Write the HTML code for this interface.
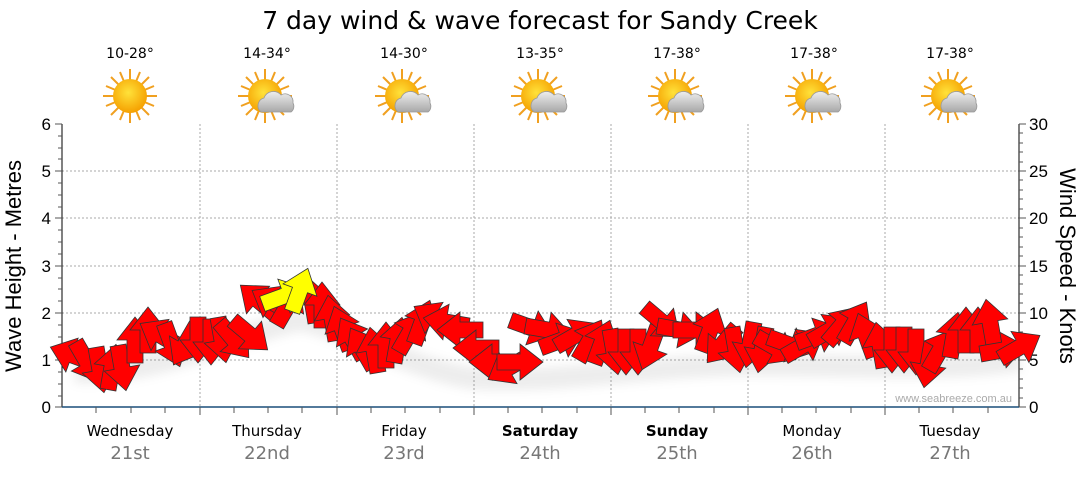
<!DOCTYPE html>
<html><head><meta charset="utf-8"><style>
body{margin:0;background:#fff;width:1080px;height:475px;overflow:hidden}
svg text{font-family:"DejaVu Sans","Liberation Sans",sans-serif}
svg text.ar{font-family:"Liberation Sans",Arial,sans-serif}
</style></head><body>
<svg width="1080" height="475" viewBox="0 0 1080 475" xmlns="http://www.w3.org/2000/svg">
<defs>
<radialGradient id="sun" cx="45%" cy="40%" r="60%"><stop offset="0" stop-color="#ffe23a"/><stop offset="1" stop-color="#f5a000"/></radialGradient>
<linearGradient id="cl" x1="0" y1="0" x2="0" y2="1"><stop offset="0" stop-color="#eeeeee"/><stop offset="1" stop-color="#a8a8a8"/></linearGradient>
<g id="rays">
<g stroke="#f0a020" stroke-width="2">
<line x1="0" y1="-27" x2="0" y2="27"/><line x1="-27" y1="0" x2="27" y2="0"/>
<line x1="-19" y1="-19" x2="19" y2="19"/><line x1="-19" y1="19" x2="19" y2="-19"/>
<line x1="-10" y1="-24" x2="10" y2="24"/><line x1="-24" y1="-10" x2="24" y2="10"/>
<line x1="-10" y1="24" x2="10" y2="-24"/><line x1="-24" y1="10" x2="24" y2="-10"/>
</g></g>
<g id="sunny"><use href="#rays"/><circle r="17" fill="url(#sun)"/></g>
<g id="cloudy"><use href="#rays"/><circle r="17" fill="url(#sun)"/>
<path d="M-4,16 a8,8 0 0 1 3,-14 a10,10 0 0 1 17,-3 a8,8 0 0 1 12,8 a7,7 0 0 1 -2,9 z" fill="url(#cl)" stroke="#999" stroke-width="0.8"/></g>
<polygon id="a" points="-8,23 8,23 8,0 18,0 0,-23 -18,0 -8,0" stroke="#333" stroke-width="0.8"/>
<filter id="sh" x="-50%" y="-50%" width="200%" height="200%"><feGaussianBlur stdDeviation="5"/></filter>
</defs>

<text x="540" y="29" font-size="25" text-anchor="middle" fill="#000">7 day wind &amp; wave forecast for Sandy Creek</text>

<g font-size="14" text-anchor="middle" fill="#000">
<text x="130" y="58">10-28°</text><text x="267" y="58">14-34°</text><text x="404" y="58">14-30°</text>
<text x="540" y="58">13-35°</text><text x="677" y="58">17-38°</text><text x="814" y="58">17-38°</text><text x="950" y="58">17-38°</text>
</g>
<use href="#sunny" x="130" y="96"/><use href="#cloudy" x="265" y="96"/><use href="#cloudy" x="402" y="96"/>
<use href="#cloudy" x="538" y="96"/><use href="#cloudy" x="675" y="96"/><use href="#cloudy" x="812" y="96"/><use href="#cloudy" x="948" y="96"/>

<g stroke="#aaa" stroke-width="1" stroke-dasharray="2,2">
<line x1="62" y1="360" x2="1019" y2="360"/><line x1="62" y1="313" x2="1019" y2="313"/>
<line x1="62" y1="266" x2="1019" y2="266"/><line x1="62" y1="218" x2="1019" y2="218"/>
<line x1="62" y1="171" x2="1019" y2="171"/>
<line x1="200" y1="124" x2="200" y2="407"/><line x1="337" y1="124" x2="337" y2="407"/>
<line x1="474" y1="124" x2="474" y2="407"/><line x1="611" y1="124" x2="611" y2="407"/>
<line x1="748" y1="124" x2="748" y2="407"/><line x1="885" y1="124" x2="885" y2="407"/>
</g>
<line x1="62" y1="124" x2="62" y2="407" stroke="#000"/>
<line x1="1019" y1="124" x2="1019" y2="407" stroke="#000"/>
<line x1="62" y1="407" x2="1019" y2="407" stroke="#1a4f7a" stroke-width="1.5"/>
<g stroke="#555" stroke-width="1">
<path d="M55,124h7M55,171h7M55,218h7M55,266h7M55,313h7M55,360h7M55,407h7"/>
<path d="M58,136h4M58,148h4M58,159h4M58,183h4M58,195h4M58,207h4M58,230h4M58,242h4M58,254h4M58,278h4M58,289h4M58,301h4M58,325h4M58,337h4M58,348h4M58,372h4M58,384h4M58,396h4"/>
<path d="M1019,124h7M1019,171h7M1019,218h7M1019,266h7M1019,313h7M1019,360h7M1019,407h7"/>
<path d="M1019,133h4M1019,143h4M1019,152h4M1019,162h4M1019,180h4M1019,190h4M1019,199h4M1019,209h4M1019,228h4M1019,237h4M1019,247h4M1019,256h4M1019,275h4M1019,284h4M1019,294h4M1019,303h4M1019,322h4M1019,332h4M1019,341h4M1019,351h4M1019,369h4M1019,379h4M1019,388h4M1019,398h4"/>
<path d="M96,407v6M131,407v6M165,407v6M200,407v8M234,407v6M268,407v6M302,407v6M337,407v8M371,407v6M405,407v6M440,407v6M474,407v8M508,407v6M542,407v6M577,407v6M611,407v8M645,407v6M679,407v6M714,407v6M748,407v8M782,407v6M816,407v6M851,407v6M885,407v8M919,407v6M953,407v6M988,407v6"/>
</g>
<g font-size="17" fill="#000" text-anchor="end">
<text class="ar" x="51" y="130">6</text><text class="ar" x="51" y="177">5</text><text class="ar" x="51" y="224">4</text><text class="ar" x="51" y="272">3</text><text class="ar" x="51" y="319">2</text><text class="ar" x="51" y="366">1</text><text class="ar" x="51" y="413">0</text>
</g>
<g font-size="17" fill="#000">
<text class="ar" x="1029" y="130">30</text><text class="ar" x="1029" y="177">25</text><text class="ar" x="1029" y="224">20</text><text class="ar" x="1029" y="272">15</text><text class="ar" x="1029" y="319">10</text><text class="ar" x="1029" y="366">5</text><text class="ar" x="1029" y="413">0</text>
</g>
<text class="ar" transform="translate(21,266) rotate(-90)" font-size="22" text-anchor="middle" fill="#000">Wave Height - Metres</text>
<text class="ar" transform="translate(1060,266) rotate(90)" font-size="22" text-anchor="middle" fill="#000">Wind Speed - Knots</text>

<text class="ar" x="1012" y="402" font-size="11" text-anchor="end" fill="#aaa">www.seabreeze.com.au</text>

<g font-size="15" text-anchor="middle" fill="#000">
<text x="130" y="436">Wednesday</text><text x="267" y="436">Thursday</text><text x="404" y="436">Friday</text>
<text x="540" y="436" font-weight="bold">Saturday</text><text x="677" y="436" font-weight="bold">Sunday</text>
<text x="812" y="436">Monday</text><text x="950" y="436">Tuesday</text>
</g>
<g font-size="18" text-anchor="middle" fill="#777">
<text x="130" y="459">21st</text><text x="267" y="459">22nd</text><text x="404" y="459">23rd</text>
<text x="540" y="459">24th</text><text x="677" y="459">25th</text><text x="812" y="459">26th</text><text x="950" y="459">27th</text>
</g>

<path d="M75,372 C150,378 250,330 300,320 C350,330 400,365 470,378 C550,385 650,365 750,365 C850,365 950,372 1020,360" stroke="#000" stroke-opacity="0.07" stroke-width="22" fill="none" filter="url(#sh)"/>

<g fill="#ff0000">
<use href="#a" transform="translate(72,355) rotate(-70)"/>
<use href="#a" transform="translate(87,362) rotate(150)"/>
<use href="#a" transform="translate(100,370) rotate(170)"/>
<use href="#a" transform="translate(112,367) rotate(10)"/>
<use href="#a" transform="translate(122,368) rotate(170)"/>
<use href="#a" transform="translate(135,340) rotate(0)"/>
<use href="#a" transform="translate(148,330) rotate(0)"/>
<use href="#a" transform="translate(160,335) rotate(-60)"/>
<use href="#a" transform="translate(172,345) rotate(160)"/>
<use href="#a" transform="translate(185,345) rotate(-150)"/>
<use href="#a" transform="translate(198,340) rotate(180)"/>
<use href="#a" transform="translate(211,342) rotate(180)"/>
<use href="#a" transform="translate(222,340) rotate(170)"/>
<use href="#a" transform="translate(234,340) rotate(140)"/>
<use href="#a" transform="translate(250,335) rotate(130)"/>
<use href="#a" transform="translate(258,300) rotate(-50)"/>
<use href="#a" transform="translate(272,302) rotate(-60)"/>
<use href="#a" transform="translate(288,305) rotate(30)"/>
<use href="#a" transform="translate(312,300) rotate(-10)"/>
<use href="#a" transform="translate(322,305) rotate(0)"/>
<use href="#a" transform="translate(332,318) rotate(-10)"/>
<use href="#a" transform="translate(342,328) rotate(-20)"/>
<use href="#a" transform="translate(352,338) rotate(-30)"/>
<use href="#a" transform="translate(362,348) rotate(-30)"/>
<use href="#a" transform="translate(374,350) rotate(-10)"/>
<use href="#a" transform="translate(386,345) rotate(0)"/>
<use href="#a" transform="translate(398,340) rotate(10)"/>
<use href="#a" transform="translate(410,332) rotate(30)"/>
<use href="#a" transform="translate(422,322) rotate(20)"/>
<use href="#a" transform="translate(434,318) rotate(-60)"/>
<use href="#a" transform="translate(446,322) rotate(-80)"/>
<use href="#a" transform="translate(460,330) rotate(-90)"/>
<use href="#a" transform="translate(476,348) rotate(-90)"/>
<use href="#a" transform="translate(492,362) rotate(-90)"/>
<use href="#a" transform="translate(508,368) rotate(-120)"/>
<use href="#a" transform="translate(520,362) rotate(90)"/>
<use href="#a" transform="translate(532,328) rotate(110)"/>
<use href="#a" transform="translate(548,330) rotate(100)"/>
<use href="#a" transform="translate(562,340) rotate(70)"/>
<use href="#a" transform="translate(576,335) rotate(60)"/>
<use href="#a" transform="translate(590,340) rotate(30)"/>
<use href="#a" transform="translate(602,342) rotate(20)"/>
<use href="#a" transform="translate(614,352) rotate(170)"/>
<use href="#a" transform="translate(626,352) rotate(180)"/>
<use href="#a" transform="translate(638,352) rotate(180)"/>
<use href="#a" transform="translate(650,348) rotate(-160)"/>
<use href="#a" transform="translate(662,322) rotate(130)"/>
<use href="#a" transform="translate(680,330) rotate(100)"/>
<use href="#a" transform="translate(696,330) rotate(90)"/>
<use href="#a" transform="translate(710,330) rotate(20)"/>
<use href="#a" transform="translate(722,345) rotate(-140)"/>
<use href="#a" transform="translate(736,350) rotate(170)"/>
<use href="#a" transform="translate(750,345) rotate(-170)"/>
<use href="#a" transform="translate(762,350) rotate(-170)"/>
<use href="#a" transform="translate(776,348) rotate(120)"/>
<use href="#a" transform="translate(790,345) rotate(110)"/>
<use href="#a" transform="translate(804,345) rotate(60)"/>
<use href="#a" transform="translate(818,335) rotate(70)"/>
<use href="#a" transform="translate(830,330) rotate(60)"/>
<use href="#a" transform="translate(842,325) rotate(40)"/>
<use href="#a" transform="translate(855,322) rotate(30)"/>
<use href="#a" transform="translate(866,335) rotate(-20)"/>
<use href="#a" transform="translate(880,345) rotate(-10)"/>
<use href="#a" transform="translate(892,350) rotate(180)"/>
<use href="#a" transform="translate(904,350) rotate(180)"/>
<use href="#a" transform="translate(916,352) rotate(180)"/>
<use href="#a" transform="translate(928,365) rotate(-170)"/>
<use href="#a" transform="translate(940,350) rotate(30)"/>
<use href="#a" transform="translate(954,335) rotate(10)"/>
<use href="#a" transform="translate(966,330) rotate(0)"/>
<use href="#a" transform="translate(978,330) rotate(0)"/>
<use href="#a" transform="translate(990,322) rotate(-10)"/>
<use href="#a" transform="translate(1003,350) rotate(80)"/>
<use href="#a" transform="translate(1020,347) rotate(60)"/>
</g>
<g fill="#ffff00">
<use href="#a" transform="translate(284,296) rotate(70)"/>
<use href="#a" transform="translate(300,290) rotate(20)"/>
</g>
</svg>
</body></html>
